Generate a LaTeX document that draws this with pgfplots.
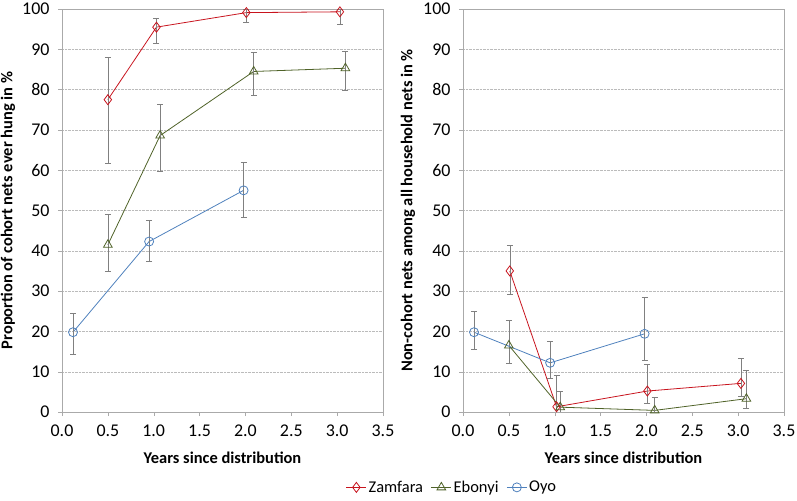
\documentclass[border=0pt]{standalone}
\usepackage{pgfplots}
\pgfplotsset{compat=1.18}
\usepackage{pgfplotstable}
\usepackage{fontspec}
\setmainfont{Carlito}
\definecolor{zam}{RGB}{200,20,30}
\definecolor{ebo}{RGB}{79,98,40}
\definecolor{oyo}{RGB}{79,129,189}
\definecolor{frm}{RGB}{170,170,170}

\pgfplotstableread{
x y ep em
0.50 77.5 10.6 15.7
1.03 95.5 2.2 4.0
2.01 99.1 0.9 2.4
3.03 99.3 0.7 3.1
}\zamL
\pgfplotstableread{
x y ep em
0.50 41.5 7.5 6.6
1.07 68.6 7.7 8.8
2.09 84.5 4.7 6.0
3.09 85.3 4.3 5.5
}\eboL
\pgfplotstableread{
x y ep em
0.12 19.8 4.8 5.4
0.95 42.3 5.4 5.0
1.98 55.0 6.9 6.6
}\oyoL
\pgfplotstableread{
x y ep em
0.51 35.0 6.3 5.8
1.02 1.3 7.9 1.3
2.01 5.2 6.7 3.0
3.03 7.1 6.3 3.3
}\zamR
\pgfplotstableread{
x y ep em
0.50 16.5 6.3 4.3
1.06 1.2 4.0 1.2
2.09 0.4 3.2 0.4
3.09 3.3 7.1 2.3
}\eboR
\pgfplotstableread{
x y ep em
0.12 19.8 5.2 4.2
0.95 12.2 5.4 3.8
1.98 19.4 9.0 6.5
}\oyoR

\pgfplotsset{
  myax/.style={
    scale only axis, width=321bp, height=403bp,
    xmin=0, xmax=3.5, ymin=0, ymax=100,
    xtick={0,0.5,...,3.5}, ytick={0,10,...,100},
    xticklabel style={yshift=-5bp, /pgf/number format/fixed, /pgf/number format/fixed zerofill, /pgf/number format/precision=1},
    /pgf/number format/assume math mode=true,
    tick label style={font=\fontsize{18}{21}\selectfont},
    yticklabel style={xshift=-5bp},
    label style={font=\fontsize{16.5}{19}\selectfont\bfseries},
    xlabel style={at={(axis description cs:0.5,-0.114)}, anchor=center},
    axis line style={frm},
    tick style={frm, thin},
    tick align=outside, major tick length=4bp,
    xtick pos=bottom, ytick pos=left,
    ymajorgrids, grid style={densely dotted, frm!80},
    xlabel={Years since distribution},
    error bars/y dir=both, error bars/y explicit,
    error bars/error bar style={gray, thin},
    error bars/error mark options={rotate=90, gray, mark size=3bp, thin},
    legend image code/.code={\draw[mark repeat=2,mark phase=2] plot coordinates {(0cm,0cm)(0.35cm,0cm)(0.7cm,0cm)};},
  },
  s/.style={#1, thick, mark options={solid, fill=white, #1}},
}

\begin{document}
\begin{tikzpicture}
\useasboundingbox (0bp,0bp) rectangle (797bp,501bp);
\begin{axis}[myax, at={(62bp,89bp)}, anchor=south west,
  ylabel={Proportion of cohort nets ever hung in \%},
  ylabel style={at={(axis description cs:-0.168,0.5)}, anchor=center},
  legend style={at={(axis description cs:1.215,-0.187)}, anchor=center,
    legend columns=3, draw=none, font=\fontsize{16.5}{19}\selectfont,
    inner sep=1bp,
    /tikz/every even column/.append style={column sep=6bp}},
]
\addplot[s=zam, mark=diamond, mark size=5bp] table[x=x,y=y,y error plus=ep,y error minus=em]{\zamL};
\addlegendentry{Zamfara}
\addplot[s=ebo, mark=triangle, mark size=5bp] table[x=x,y=y,y error plus=ep,y error minus=em]{\eboL};
\addlegendentry{Ebonyi}
\addplot[s=oyo, mark=o, mark size=4.5bp] table[x=x,y=y,y error plus=ep,y error minus=em]{\oyoL};
\addlegendentry{Oyo}
\end{axis}
\begin{axis}[myax, at={(463bp,89bp)}, anchor=south west,
  ylabel={Non-cohort nets among all household nets in \%},
  ylabel style={at={(axis description cs:-0.171,0.5)}, anchor=center},
]
\addplot[s=zam, mark=diamond, mark size=5bp] table[x=x,y=y,y error plus=ep,y error minus=em]{\zamR};
\addplot[s=ebo, mark=triangle, mark size=5bp] table[x=x,y=y,y error plus=ep,y error minus=em]{\eboR};
\addplot[s=oyo, mark=o, mark size=4.5bp] table[x=x,y=y,y error plus=ep,y error minus=em]{\oyoR};
\end{axis}
\end{tikzpicture}
\end{document}
